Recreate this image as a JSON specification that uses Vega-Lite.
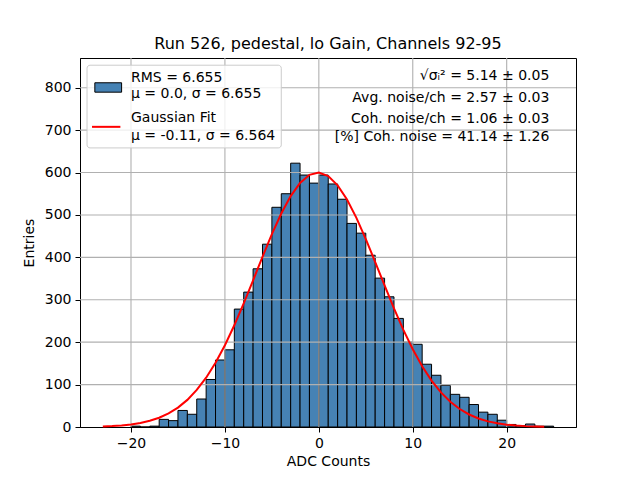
{
  "$schema": "https://vega.github.io/schema/vega-lite/v6.json",
  "width": 496,
  "height": 369,
  "autosize": "none",
  "padding": {"left": 80, "top": 58, "right": 64, "bottom": 53},
  "title": {
    "text": "Run 526, pedestal, lo Gain, Channels 92-95",
    "fontSize": 16,
    "fontWeight": "normal",
    "font": "DejaVu Sans",
    "color": "black",
    "anchor": "middle",
    "frame": "group",
    "baseline": "bottom",
    "offset": -11
  },
  "config": {
    "view": {"stroke": "black", "strokeWidth": 1},
    "axis": {
      "grid": false,
      "domainColor": "black",
      "domainWidth": 1,
      "tickColor": "black",
      "tickWidth": 1,
      "tickSize": 5,
      "labelFont": "DejaVu Sans",
      "labelFontSize": 14,
      "labelColor": "black",
      "labelPadding": 4,
      "titleFont": "DejaVu Sans",
      "titleFontSize": 14,
      "titleFontWeight": "normal",
      "titleColor": "black"
    },
    "text": {"font": "DejaVu Sans", "fontSize": 14, "color": "black"}
  },
  "layer": [
    {
      "data": {"values": [
        {"x": -20, "x2": -19, "y": 2}, {"x": -19, "x2": -18, "y": 0},
        {"x": -18, "x2": -17, "y": 2}, {"x": -17, "x2": -16, "y": 18},
        {"x": -16, "x2": -15, "y": 15}, {"x": -15, "x2": -14, "y": 39},
        {"x": -14, "x2": -13, "y": 30}, {"x": -13, "x2": -12, "y": 66},
        {"x": -12, "x2": -11, "y": 112}, {"x": -11, "x2": -10, "y": 158},
        {"x": -10, "x2": -9, "y": 182}, {"x": -9, "x2": -8, "y": 278},
        {"x": -8, "x2": -7, "y": 318}, {"x": -7, "x2": -6, "y": 373},
        {"x": -6, "x2": -5, "y": 431}, {"x": -5, "x2": -4, "y": 518},
        {"x": -4, "x2": -3, "y": 550}, {"x": -3, "x2": -2, "y": 622},
        {"x": -2, "x2": -1, "y": 594}, {"x": -1, "x2": 0, "y": 575},
        {"x": 0, "x2": 1, "y": 594}, {"x": 1, "x2": 2, "y": 573},
        {"x": 2, "x2": 3, "y": 537}, {"x": 3, "x2": 4, "y": 480},
        {"x": 4, "x2": 5, "y": 457}, {"x": 5, "x2": 6, "y": 405},
        {"x": 6, "x2": 7, "y": 351}, {"x": 7, "x2": 8, "y": 307},
        {"x": 8, "x2": 9, "y": 256}, {"x": 9, "x2": 10, "y": 200},
        {"x": 10, "x2": 11, "y": 195}, {"x": 11, "x2": 12, "y": 148},
        {"x": 12, "x2": 13, "y": 122}, {"x": 13, "x2": 14, "y": 98},
        {"x": 14, "x2": 15, "y": 77}, {"x": 15, "x2": 16, "y": 70},
        {"x": 16, "x2": 17, "y": 53}, {"x": 17, "x2": 18, "y": 35},
        {"x": 18, "x2": 19, "y": 30}, {"x": 19, "x2": 20, "y": 16},
        {"x": 20, "x2": 21, "y": 6}, {"x": 21, "x2": 22, "y": 3},
        {"x": 22, "x2": 23, "y": 7}, {"x": 23, "x2": 24, "y": 2},
        {"x": 24, "x2": 25, "y": 2}
      ]},
      "mark": {"type": "rect", "fill": "#4682b4", "stroke": "black", "strokeWidth": 1},
      "encoding": {
        "x": {
          "field": "x", "type": "quantitative", "title": "ADC Counts",
          "scale": {"domain": [-25.43, 27.38], "nice": false, "zero": false},
          "axis": {"values": [-20, -10, 0, 10, 20], "titlePadding": 4}
        },
        "x2": {"field": "x2"},
        "y": {
          "field": "y", "type": "quantitative", "title": "Entries",
          "scale": {"domain": [0, 870], "nice": false},
          "axis": {"values": [0, 100, 200, 300, 400, 500, 600, 700, 800], "titlePadding": 8}
        },
        "y2": {"datum": 0}
      }
    },
    {
      "data": {"values": [{"x": -20}, {"x": -10}, {"x": 0}, {"x": 10}, {"x": 20}]},
      "mark": {"type": "rule", "color": "#b0b0b0", "strokeWidth": 1.1},
      "encoding": {"x": {"field": "x", "type": "quantitative"}}
    },
    {
      "data": {"values": [
        {"y": 100}, {"y": 200}, {"y": 300}, {"y": 400},
        {"y": 500}, {"y": 600}, {"y": 700}, {"y": 800}
      ]},
      "mark": {"type": "rule", "color": "#b0b0b0", "strokeWidth": 1.1},
      "encoding": {"y": {"field": "y", "type": "quantitative"}}
    },
    {
      "data": {"values": [
        {"x": -23, "y": 1.37}, {"x": -22, "y": 2.31}, {"x": -21, "y": 3.79},
        {"x": -20, "y": 6.08}, {"x": -19, "y": 9.54}, {"x": -18, "y": 14.6},
        {"x": -17, "y": 21.9}, {"x": -16, "y": 32.0}, {"x": -15, "y": 45.8},
        {"x": -14, "y": 63.9}, {"x": -13, "y": 87.3}, {"x": -12, "y": 116.3},
        {"x": -11, "y": 151.5}, {"x": -10, "y": 192.9}, {"x": -9, "y": 239.8},
        {"x": -8, "y": 291.4}, {"x": -7, "y": 345.9}, {"x": -6, "y": 401.2},
        {"x": -5, "y": 454.6}, {"x": -4, "y": 503.4}, {"x": -3, "y": 544.5},
        {"x": -2, "y": 575.6}, {"x": -1, "y": 594.5}, {"x": 0, "y": 599.9},
        {"x": 1, "y": 591.5}, {"x": 2, "y": 569.8}, {"x": 3, "y": 536.3},
        {"x": 4, "y": 493.2}, {"x": 5, "y": 443.2}, {"x": 6, "y": 389.0},
        {"x": 7, "y": 333.7}, {"x": 8, "y": 279.7}, {"x": 9, "y": 229.0},
        {"x": 10, "y": 183.2}, {"x": 11, "y": 143.2}, {"x": 12, "y": 109.4},
        {"x": 13, "y": 81.6}, {"x": 14, "y": 59.5}, {"x": 15, "y": 42.4},
        {"x": 16, "y": 29.5}, {"x": 17, "y": 20.1}, {"x": 18, "y": 13.3},
        {"x": 19, "y": 8.66}, {"x": 20, "y": 5.49}, {"x": 21, "y": 3.41},
        {"x": 22, "y": 2.06}, {"x": 23, "y": 1.22}, {"x": 24, "y": 0.71}
      ]},
      "mark": {"type": "line", "color": "red", "strokeWidth": 2},
      "encoding": {
        "x": {"field": "x", "type": "quantitative"},
        "y": {"field": "y", "type": "quantitative"}
      }
    },
    {
      "data": {"values": [{"x": -24.68, "x2": -4.0, "y": 853, "y2": 658}]},
      "mark": {"type": "rect", "fill": "white", "fillOpacity": 0.8, "stroke": "#cccccc", "strokeWidth": 1, "cornerRadius": 3},
      "encoding": {
        "x": {"field": "x", "type": "quantitative"},
        "x2": {"field": "x2"},
        "y": {"field": "y", "type": "quantitative"},
        "y2": {"field": "y2"}
      }
    },
    {
      "data": {"values": [{"x": -23.85, "x2": -21.0, "y": 811.6, "y2": 789.4}]},
      "mark": {"type": "rect", "fill": "#4682b4", "stroke": "black", "strokeWidth": 1},
      "encoding": {
        "x": {"field": "x", "type": "quantitative"},
        "x2": {"field": "x2"},
        "y": {"field": "y", "type": "quantitative"},
        "y2": {"field": "y2"}
      }
    },
    {
      "data": {"values": [{"x": -24.15, "x2": -21.13, "y": 707.7}]},
      "mark": {"type": "rule", "color": "red", "strokeWidth": 2},
      "encoding": {
        "x": {"field": "x", "type": "quantitative"},
        "x2": {"field": "x2"},
        "y": {"field": "y", "type": "quantitative"}
      }
    },
    {
      "data": {"values": [
        {"x": -20, "y": 822, "t": "RMS = 6.655"},
        {"x": -20, "y": 784.5, "t": "μ = 0.0, σ = 6.655"},
        {"x": -20, "y": 728.5, "t": "Gaussian Fit"},
        {"x": -20, "y": 686, "t": "μ = -0.11, σ = 6.564"}
      ]},
      "mark": {"type": "text", "align": "left", "baseline": "middle"},
      "encoding": {
        "x": {"field": "x", "type": "quantitative"},
        "y": {"field": "y", "type": "quantitative"},
        "text": {"field": "t"}
      }
    },
    {
      "data": {"values": [
        {"x": 24.54, "y": 828.5, "t": "√σᵢ² = 5.14 ± 0.05"},
        {"x": 24.54, "y": 775, "t": "Avg. noise/ch = 2.57 ± 0.03"},
        {"x": 24.54, "y": 726, "t": "Coh. noise/ch = 1.06 ± 0.03"},
        {"x": 24.54, "y": 684.5, "t": "[%] Coh. noise = 41.14 ± 1.26"}
      ]},
      "mark": {"type": "text", "align": "right", "baseline": "middle"},
      "encoding": {
        "x": {"field": "x", "type": "quantitative"},
        "y": {"field": "y", "type": "quantitative"},
        "text": {"field": "t"}
      }
    }
  ]
}
